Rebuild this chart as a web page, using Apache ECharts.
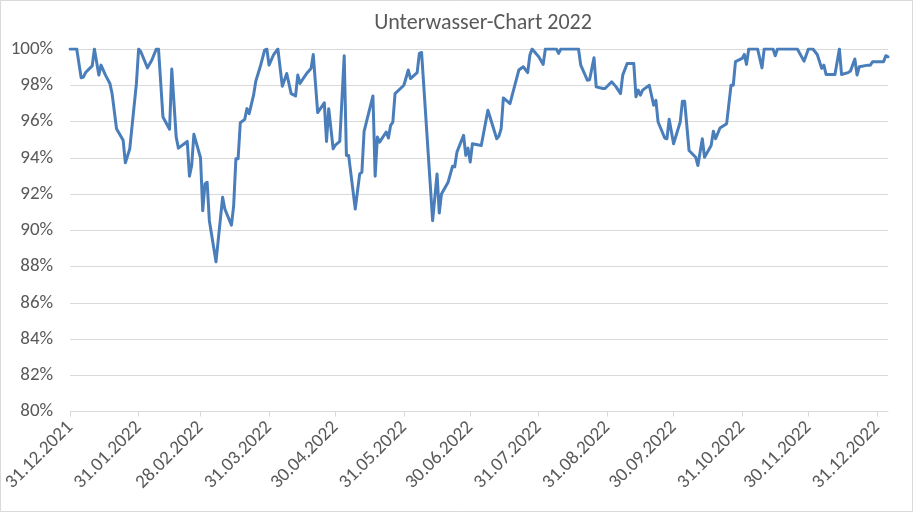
<!DOCTYPE html>
<html>
<head>
<meta charset="utf-8">
<script src="https://cdn.jsdelivr.net/npm/echarts@6/dist/echarts.min.js"></script>
<style>
html,body{margin:0;padding:0;background:#fff;}
#chart{width:913px;height:512px;}
</style>
</head>
<body>
<div id="chart"></div>
<script>
// Days after 31.12.2021 and drawdown value in percent
const days = [0,3,5,6,7,10,11,13,14,16,18,19,21,24,25,27,30,31,32,35,37,39,40,42,45,46,48,49,53,54,55,56,59,60,61,62,63,66,69,70,73,74,75,76,77,79,80,81,83,84,86,88,89,90,92,94,96,98,100,102,103,104,107,109,110,112,115,116,117,119,120,122,124,125,126,129,131,132,133,137,138,139,140,143,144,145,146,147,151,153,154,157,158,159,164,166,167,168,171,173,174,175,178,179,180,181,182,186,189,193,194,195,196,199,200,203,205,207,208,209,212,214,215,220,221,222,230,231,234,235,237,238,241,242,245,247,249,250,252,255,256,257,258,259,262,264,265,266,269,270,271,273,276,277,278,280,283,284,286,287,290,291,292,294,297,299,300,301,304,305,306,307,311,313,314,318,319,320,329,332,334,336,338,340,341,342,346,348,349,352,353,355,356,357,361,362,363,368,369,370];
const values = [100,100,98.41,98.45,98.7,99.07,100,98.56,99.11,98.56,98.1,97.54,95.6,94.96,93.72,94.5,98.1,100,99.85,98.96,99.39,100,100,96.25,95.57,98.89,95.14,94.53,94.9,92.98,93.57,95.29,94.0,91.08,92.55,92.65,90.53,88.26,91.82,91.17,90.28,91.36,93.94,93.94,95.93,96.12,96.71,96.43,97.45,98.22,99.02,99.94,100,99.11,99.67,100,97.95,98.65,97.54,97.41,98.56,98.1,98.65,98.93,99.7,96.49,97.03,94.9,96.71,94.49,94.7,94.9,99.63,94.13,94.13,91.17,93.11,93.2,95.46,97.41,92.98,95.14,94.86,95.42,95.09,95.79,95.97,97.54,98.0,98.84,98.37,98.7,99.76,99.81,90.53,93.11,90.95,92.0,92.65,93.53,93.5,94.31,95.24,94.13,94.53,93.76,94.77,94.68,96.62,95.05,95.2,95.6,97.3,96.99,97.45,98.84,99.02,98.7,99.67,100,99.57,99.15,100,100,99.76,100,100,99.11,98.28,98.3,99.52,97.91,97.82,97.82,98.19,97.91,97.54,98.56,99.2,99.2,97.36,97.73,97.45,97.73,98.0,96.9,97.17,95.97,95.09,95.05,96.12,94.77,95.97,97.12,97.12,94.4,94.03,93.57,95.05,94.03,94.68,95.46,95.05,95.64,95.88,98.0,98.0,99.3,99.48,99.7,99.15,100,100,98.96,100,100,99.63,100,100,99.33,100,100,99.7,98.93,99.11,98.59,98.59,100,98.59,98.7,98.78,99.45,98.56,99.02,99.11,99.1,99.3,99.3,99.63,99.57];

const tickDays = [0,31,59,90,120,151,181,212,243,273,304,334,365];
const tickLabels = ['31.12.2021','31.01.2022','28.02.2022','31.03.2022','30.04.2022','31.05.2022','30.06.2022','31.07.2022','31.08.2022','30.09.2022','31.10.2022','30.11.2022','31.12.2022'];
const titleText = 'Unterwasser-Chart 2022';

const chart = echarts.init(document.getElementById('chart'), null, {renderer:'canvas'});
const font = "Carlito, 'Liberation Sans', Arial, sans-serif";
const data = days.map((d,i)=>[d, values[i]]);

chart.setOption({
  animation:false,
  backgroundColor:'#ffffff',
  title:{
    text:titleText,
    left:478, top:7, textAlign:'center',
    textStyle:{fontFamily:font,fontSize:22,fontWeight:'normal',color:'#595959'}
  },
  graphic:[{
    type:'rect', shape:{x:0.5,y:0.5,width:912,height:511},
    style:{fill:'none',stroke:'#d9d9d9',lineWidth:1}, silent:true
  }],
  grid:{left:70,right:25,top:49,height:362.5,containLabel:false},
  xAxis:{
    type:'value', min:0, max:370,
    axisLine:{show:true,lineStyle:{color:'#d9d9d9',width:1}},
    axisTick:{show:true,length:5,lineStyle:{color:'#d9d9d9'},customValues:tickDays},
    splitLine:{show:false},
    axisLabel:{
      customValues:tickDays, rotate:45, margin:13,
      fontFamily:font, fontSize:19, color:'#595959',
      formatter:(v)=>{const i=tickDays.indexOf(Math.round(v));return i>=0?tickLabels[i]:'';}
    }
  },
  yAxis:{
    type:'value', min:80, max:100, interval:2,
    axisLine:{show:false}, axisTick:{show:false},
    splitLine:{show:true,lineStyle:{color:'#d9d9d9',width:1}},
    axisLabel:{fontFamily:font,fontSize:19,color:'#595959',margin:17,formatter:(v)=>v+'%'}
  },
  series:[{
    type:'line', data:data, showSymbol:false, symbol:'none',
    lineStyle:{color:'#4a7ebb',width:3,join:'round',cap:'round'},
    itemStyle:{color:'#4a7ebb'}
  }]
});
</script>
</body>
</html>
